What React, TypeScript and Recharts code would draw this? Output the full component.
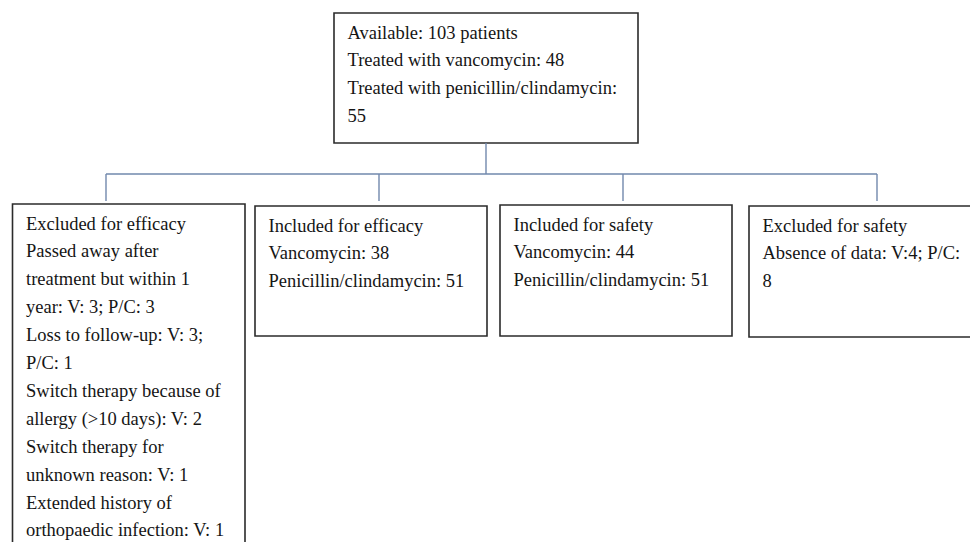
import React from 'react';
import { ComposedChart, XAxis, YAxis, Scatter, ReferenceArea, ReferenceLine } from 'recharts';

// text of each box, line by line, as wrapped in the original
const availableLines = [
    'Available: 103 patients',
    'Treated with vancomycin: 48',
    'Treated with penicillin/clindamycin:',
    '55',
];
const excludedEfficacyLines = [
    'Excluded for efficacy',
    'Passed away after',
    'treatment but within 1',
    'year: V: 3; P/C: 3',
    'Loss to follow-up: V: 3;',
    'P/C: 1',
    'Switch therapy because of',
    'allergy (>10 days): V: 2',
    'Switch therapy for',
    'unknown reason: V: 1',
    'Extended history of',
    'orthopaedic infection: V: 1',
];
const includedEfficacyLines = ['Included for efficacy', 'Vancomycin: 38', 'Penicillin/clindamycin: 51'];
const includedSafetyLines = ['Included for safety', 'Vancomycin: 44', 'Penicillin/clindamycin: 51'];
const excludedSafetyLines = ['Excluded for safety', 'Absence of data: V:4; P/C:', '8'];

// layout in page pixels (the axes map 1:1 onto the svg)
const W = 970;
const H = 542;
const LINE_H = 27.9;
const FIRST_BASELINE = 25.5;
const TEXT_PAD = 13.5;

const boxes = [
    { lines: availableLines, x1: 334, x2: 638, y1: 13, y2: 143 },
    { lines: excludedEfficacyLines, x1: 12.5, x2: 245, y1: 204, y2: 580 },
    { lines: includedEfficacyLines, x1: 255, x2: 487, y1: 206, y2: 336 },
    { lines: includedSafetyLines, x1: 500, x2: 732, y1: 205, y2: 336 },
    { lines: excludedSafetyLines, x1: 749, x2: 1000, y1: 206, y2: 337 },
];

const BRANCH_Y = 174;
const DROP_END = 201;
const dropXs = [106, 379, 623, 877];

const textPoints = boxes.flatMap((b) =>
    b.lines.map((label, i) => ({
        x: b.x1 + TEXT_PAD,
        y: b.y1 + FIRST_BASELINE + i * LINE_H,
        label,
    }))
);

const LineText = (props: any) => (
    <text
        x={props.cx}
        y={props.cy}
        fontFamily="'Liberation Serif', 'Times New Roman', serif"
        fontSize={18.5}
        fill="#151515"
    >
        {props.payload.label}
    </text>
);

const CONNECTOR = '#7188ad';

const App: React.FC = () => {
    return (
        <div style={{ position: 'absolute', left: 0, top: 0, width: W, height: H, overflow: 'hidden', background: '#fff' }}>
            <ComposedChart width={W} height={H} margin={{ top: 0, right: 0, bottom: 0, left: 0 }}>
                <XAxis type="number" dataKey="x" domain={[0, W]} hide allowDataOverflow />
                <YAxis type="number" dataKey="y" domain={[0, H]} reversed hide allowDataOverflow />

                {/* connectors */}
                <ReferenceLine
                    segment={[{ x: 486, y: 143 }, { x: 486, y: BRANCH_Y }]}
                    stroke={CONNECTOR}
                    strokeWidth={1.4}
                />
                <ReferenceLine
                    segment={[{ x: dropXs[0], y: BRANCH_Y }, { x: dropXs[dropXs.length - 1], y: BRANCH_Y }]}
                    stroke={CONNECTOR}
                    strokeWidth={1.4}
                />
                {dropXs.map((x) => (
                    <ReferenceLine
                        key={x}
                        segment={[{ x, y: BRANCH_Y }, { x, y: DROP_END }]}
                        stroke={CONNECTOR}
                        strokeWidth={1.4}
                    />
                ))}

                {/* boxes */}
                {boxes.map((b, i) => (
                    <ReferenceArea
                        key={i}
                        x1={b.x1}
                        x2={b.x2}
                        y1={b.y1}
                        y2={b.y2}
                        fill="#fff"
                        fillOpacity={1}
                        stroke="#2b2b2b"
                        strokeWidth={1.6}
                        ifOverflow="visible"
                    />
                ))}

                <Scatter data={textPoints} shape={<LineText />} isAnimationActive={false} />
            </ComposedChart>
        </div>
    );
};

export default App;
